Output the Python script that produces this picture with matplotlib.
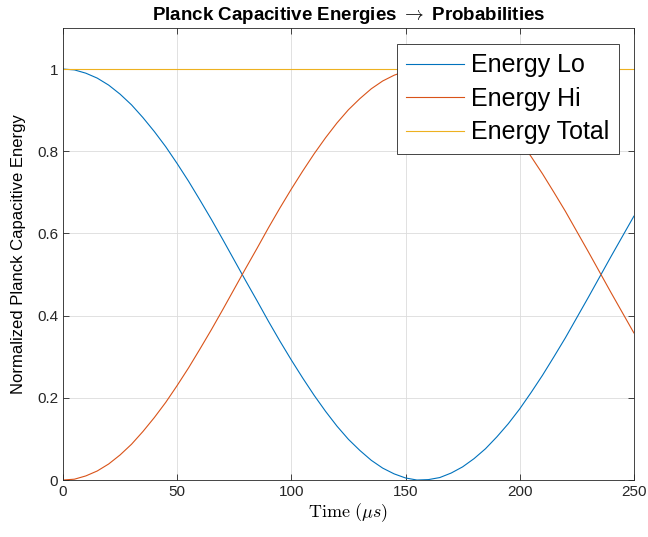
import matplotlib
matplotlib.use('Agg')
import matplotlib.pyplot as plt

plt.rcParams['font.family'] = ['Liberation Sans', 'DejaVu Sans']
plt.rcParams['mathtext.fontset'] = 'cm'

# time samples (us) and normalized energies
time_us = list(range(0, 255, 5))
energy_lo = [1.000, 0.998, 0.990, 0.978, 0.961, 0.939, 0.913, 0.882, 0.848,
             0.811, 0.770, 0.727, 0.681, 0.634, 0.585, 0.535, 0.485, 0.436,
             0.386, 0.338, 0.292, 0.248, 0.206, 0.167, 0.131, 0.099, 0.072,
             0.048, 0.029, 0.015, 0.005, 0.000, 0.001, 0.006, 0.017, 0.032,
             0.052, 0.076, 0.105, 0.137, 0.173, 0.213, 0.255, 0.300, 0.346,
             0.395, 0.444, 0.494, 0.544, 0.593, 0.642]
energy_hi = [0.000, 0.002, 0.010, 0.022, 0.039, 0.061, 0.087, 0.118, 0.152,
             0.189, 0.230, 0.273, 0.319, 0.366, 0.415, 0.465, 0.515, 0.564,
             0.614, 0.662, 0.708, 0.752, 0.794, 0.833, 0.869, 0.901, 0.928,
             0.952, 0.971, 0.985, 0.995, 1.000, 0.999, 0.994, 0.983, 0.968,
             0.948, 0.924, 0.895, 0.863, 0.827, 0.787, 0.745, 0.700, 0.654,
             0.605, 0.556, 0.506, 0.456, 0.407, 0.358]
energy_total = [1.0] * len(time_us)

fig = plt.figure(figsize=(6.48, 5.37), dpi=100)
ax = fig.add_axes([0.0972, 0.1061, 0.881, 0.8418])

ax.plot(time_us, energy_lo, color='#0072BD', lw=0.8, label='Energy Lo')
ax.plot(time_us, energy_hi, color='#D95319', lw=0.8, label='Energy Hi')
ax.plot(time_us, energy_total, color='#EDB120', lw=0.8, label='Energy Total')

ax.set_xlim(0, 250)
ax.set_ylim(0, 1.1)
ax.set_xticks([0, 50, 100, 150, 200, 250])
ax.set_yticks([0, 0.2, 0.4, 0.6, 0.8, 1])
ax.set_yticklabels(['0', '0.2', '0.4', '0.6', '0.8', '1'])
ax.grid(True, color='#dcdcdc', lw=0.6)
ax.set_axisbelow(True)
ax.tick_params(direction='in', labelsize=11, length=4, width=0.6,
               top=True, right=True, colors='#262626')
for s in ax.spines.values():
    s.set_linewidth(0.6)
    s.set_color('#262626')

ax.set_title(r'Planck Capacitive Energies $\rightarrow$ Probabilities',
             fontsize=13.5, fontweight='bold', pad=6)
ax.set_xlabel(r'$\mathrm{Time}\ (\mu s)$', fontsize=13, labelpad=2)
ax.set_ylabel('Normalized Planck Capacitive Energy', fontsize=12, labelpad=8)

leg = ax.legend(loc='upper right', bbox_to_anchor=(0.974, 0.965),
                fontsize=18, frameon=True, fancybox=False, framealpha=1,
                edgecolor='#262626', handlelength=2.3, borderpad=0.38,
                labelspacing=0.38, handletextpad=0.3, borderaxespad=0)
leg.get_frame().set_linewidth(0.6)

fig.savefig('out.png', dpi=100)
